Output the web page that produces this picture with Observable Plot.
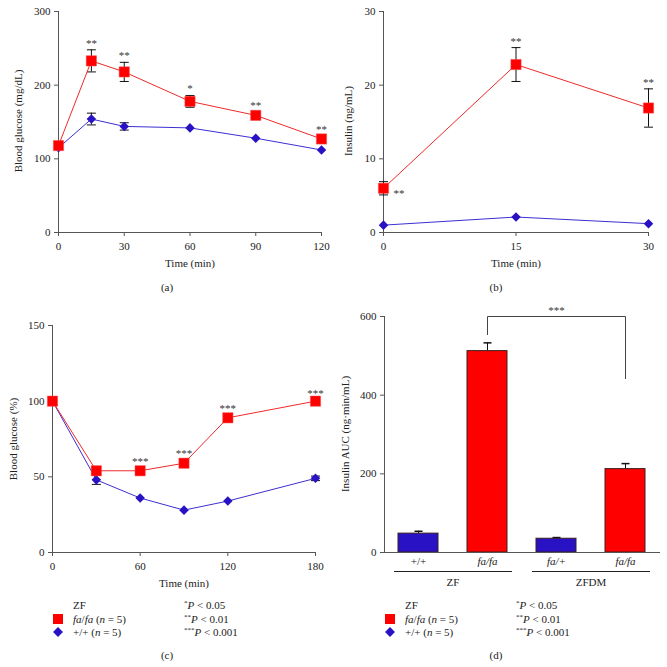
<!DOCTYPE html>
<html><head><meta charset="utf-8">
<script src="https://cdn.jsdelivr.net/npm/d3@7"></script>
<script src="https://cdn.jsdelivr.net/npm/@observablehq/plot@0.6"></script>
<style>
body{margin:0;background:#fff;}
#fig{position:relative;width:667px;height:667px;font-family:"Liberation Serif","Times New Roman",serif;color:#222;overflow:hidden;background:#fff;}
.panel{position:absolute;}
.panel svg{display:block;}
.cap{position:absolute;font-size:11px;transform:translate(-50%,-50%);white-space:nowrap;}
.ylab{position:absolute;font-size:11px;transform:translate(-50%,-50%) rotate(-90deg);white-space:nowrap;}
.leg{position:absolute;font-size:11px;white-space:nowrap;transform:translateY(-50%);}
.sq{position:absolute;width:10px;height:10px;background:#ff0000;transform:translate(-50%,-50%);}
.dm{position:absolute;width:7px;height:7px;background:#2912c4;transform:translate(-50%,-50%) rotate(45deg);}
.leg sup{font-size:7px;vertical-align:4px;line-height:0;}
text.stars{letter-spacing:2px;}
</style></head><body><div id="fig"></div>
<script>
// ---------- data ----------
// (a) blood glucose (mg/dL)
const aTime = [0, 15, 30, 60, 90, 120];
const aFaFa = [118, 233, 218, 178, 159, 127];
const aFaFaErr = [4, 15, 13, 8, 4, 4];
const aWild = [115, 154, 144, 142, 128, 112];
const aWildErr = [0, 8, 5, 0, 0, 0];
const aStars = ["", "**", "**", "*", "**", "**"];
// (b) insulin (ng/mL)
const bTime = [0, 15, 30];
const bFaFa = [6.0, 22.8, 16.9];
const bFaFaErr = [0.9, 2.3, 2.6];
const bWild = [1.0, 2.1, 1.2];
const bWildErr = [0, 0, 0];
const bStars = ["", "**", "**"];
const bSideStars = ["**", "", ""];
// (c) blood glucose (%)
const cTime = [0, 30, 60, 90, 120, 180];
const cFaFa = [100, 54, 54, 59, 89, 100];
const cFaFaErr = [0, 2, 2, 2, 2, 1];
const cWild = [100, 48, 36, 28, 34, 49];
const cWildErr = [0, 3, 0, 0, 0, 1.5];
const cStars = ["", "", "***", "***", "***", "***"];
// (d) insulin AUC
const dKeys = ["ZF +/+", "ZF fa/fa", "ZFDM fa/+", "ZFDM fa/fa"];
const dLabels = ["+/+", "fa/fa", "fa/+", "fa/fa"];
const dGroups = ["ZF", "ZF", "ZFDM", "ZFDM"];
const dGeno = ["wild", "fa", "wild", "fa"];
const dValues = [48, 512, 35, 212];
const dErr = [6, 21, 3, 14];
const dBracketKeys = ["ZF fa/fa", "ZF fa/fa", "ZFDM fa/fa", "ZFDM fa/fa"];
const dBracketValues = [554, 600, 600, 442];
const dBracketStars = "***";
const groupNames = ["ZF", "ZFDM"];
// axis titles
const yTitles = ["Blood glucose (mg/dL)", "Insulin (ng/mL)", "Blood glucose (%)", "Insulin AUC (ng·min/mL)"];

// ---------- style ----------
const RED = "#ff0000", RED_LINE = "#ee2a2a";
const BLUE = "#2912c4", BLUE_LINE = "#3d2fd2";
const AX = "#555";
const FONT = "Liberation Serif";
const cap = {draw(ctx, size){ const r = Math.sqrt(size / Math.PI); ctx.moveTo(-r, 0); ctx.lineTo(r, 0); }};

const fig = document.getElementById("fig");
function place(node, left, top, width){
  const d = document.createElement("div");
  d.className = "panel";
  d.style.left = left + "px"; d.style.top = top + "px"; d.style.width = width + "px";
  d.appendChild(node); fig.appendChild(d);
}
function svgStyle(){ return {fontFamily: FONT, fontSize: "11px", color: "#222", background: "transparent", overflow: "visible"}; }

function series(t, v, e, s){ return t.map((x, i) => ({t: x, v: v[i], e: e[i], s: s ? s[i] : ""})); }

function errMarks(data){
  const shown = data.filter(d => d.e > 0);
  return [
    Plot.ruleX(shown, {x: "t", y1: d => d.v - d.e, y2: d => d.v + d.e, stroke: "#111", strokeWidth: 1}),
    Plot.dot(shown, {x: "t", y: d => d.v + d.e, symbol: cap, r: 4.5, stroke: "#111", fill: "none", strokeWidth: 1}),
    Plot.dot(shown, {x: "t", y: d => d.v - d.e, symbol: cap, r: 4.5, stroke: "#111", fill: "none", strokeWidth: 1})
  ];
}

function linePanel(o){
  const fa = series(o.t, o.fa, o.faErr, o.stars);
  const wt = series(o.t, o.wt, o.wtErr);
  const marks = [
    Plot.frame({anchor: "left", stroke: AX}),
    Plot.frame({anchor: "bottom", stroke: AX}),
    Plot.axisY({ticks: o.yTicks, tickSize: 4, tickPadding: 4, label: null, stroke: AX}),
    Plot.axisX({ticks: o.xTicks, tickSize: 4, tickPadding: 6, label: "Time (min)", labelAnchor: "center", labelOffset: 34, labelArrow: "none", stroke: AX}),
    ...errMarks(wt),
    Plot.line(wt, {x: "t", y: "v", stroke: BLUE_LINE, strokeWidth: 1}),
    Plot.dot(wt, {x: "t", y: "v", symbol: "diamond2", r: 4.3, fill: BLUE, stroke: "none"}),
    ...errMarks(fa),
    Plot.line(fa, {x: "t", y: "v", stroke: RED_LINE, strokeWidth: 1}),
    Plot.dot(fa, {x: "t", y: "v", symbol: "square", r: 5.8, fill: RED, stroke: "#f45050", strokeWidth: 0.5}),
    Plot.text(fa.filter(d => d.s), {x: "t", y: d => d.v + d.e, text: "s", dy: -3, lineAnchor: "bottom", fill: "#333", className: "stars"})
  ];
  if (o.side) {
    const side = series(o.t, o.fa, o.faErr, o.side).filter(d => d.s);
    marks.push(Plot.text(side, {x: "t", y: "v", text: "s", dx: 10, dy: 5, textAnchor: "start", fill: "#333", className: "stars"}));
  }
  return Plot.plot({
    width: o.width, height: o.height,
    marginLeft: o.ml, marginRight: o.mr, marginTop: o.mt, marginBottom: o.mb,
    style: svgStyle(),
    x: {domain: o.xDomain, axis: null},
    y: {domain: o.yDomain, axis: null},
    marks
  });
}

place(linePanel({t: aTime, fa: aFaFa, faErr: aFaFaErr, wt: aWild, wtErr: aWildErr, stars: aStars,
  xDomain: [0, 120], yDomain: [0, 300], xTicks: aTime.filter(t => t % 30 === 0), yTicks: [0, 100, 200, 300],
  width: 333, height: 275, ml: 58, mr: 12, mt: 11, mb: 43}), 0, 0, 333);

place(linePanel({t: bTime, fa: bFaFa, faErr: bFaFaErr, wt: bWild, wtErr: bWildErr, stars: bStars, side: bSideStars,
  xDomain: [0, 30], yDomain: [0, 30], xTicks: bTime, yTicks: [0, 10, 20, 30],
  width: 334, height: 275, ml: 50, mr: 19, mt: 11, mb: 43}), 333, 0, 334);

place(linePanel({t: cTime, fa: cFaFa, faErr: cFaFaErr, wt: cWild, wtErr: cWildErr, stars: cStars,
  xDomain: [0, 180], yDomain: [0, 150], xTicks: [0, 60, 120, 180], yTicks: [0, 50, 100, 150],
  width: 333, height: 302, ml: 52, mr: 18, mt: 35, mb: 40}), 0, 290, 333);

// (d) bar chart
const dData = dKeys.map((k, i) => ({k, label: dLabels[i], g: dGroups[i], geno: dGeno[i], v: dValues[i], e: dErr[i]}));
const labelOf = Object.fromEntries(dData.map(d => [d.k, d.label]));
const groups = groupNames.map(g => {
  const ks = dData.filter(d => d.g === g).map(d => d.k);
  return {name: g, first: ks[0], last: ks[ks.length - 1]};
});
const bracket = dBracketKeys.map((k, i) => ({k, v: dBracketValues[i]}));
const midKey = dKeys[2];

function barPanel(step){
  return Plot.plot({
    width: 334, height: 302, marginLeft: 51, marginRight: 7, marginTop: 26, marginBottom: 40,
    style: svgStyle(),
    x: {type: "band", domain: dKeys, paddingInner: 0.42, paddingOuter: 0.21, axis: null},
    y: {domain: [0, 600], axis: null},
    marks: [
      Plot.ruleX(dData, {x: "k", y1: "v", y2: d => d.v + d.e, stroke: "#111"}),
      Plot.dot(dData, {x: "k", y: d => d.v + d.e, symbol: cap, r: 4, stroke: "#111", fill: "none"}),
      Plot.barY(dData, {x: "k", y: "v", fill: d => d.geno === "fa" ? RED : BLUE, stroke: "#3a2020", strokeWidth: 1}),
      Plot.frame({anchor: "left", stroke: AX}),
      Plot.ruleY([0], {stroke: AX}),
      Plot.axisY({ticks: [0, 200, 400, 600], tickSize: 4, tickPadding: 4, label: null, stroke: AX}),
      Plot.axisX({ticks: dKeys.filter(k => !labelOf[k].includes("fa")), tickFormat: k => labelOf[k], tickSize: 0, tickPadding: 5, label: null}),
      Plot.axisX({ticks: dKeys.filter(k => labelOf[k].includes("fa")), tickFormat: k => labelOf[k], tickSize: 0, tickPadding: 5, label: null, fontStyle: "italic"}),
      Plot.ruleY(groups, {x1: "first", x2: "last", y: () => 0, dy: 19, insetLeft: -4, insetRight: -5, stroke: "#222"}),
      Plot.text(groups, {x: "first", y: () => 0, text: "name", dx: step / 2, dy: 30, fill: "#222"}),
      Plot.line(bracket, {x: "k", y: "v", stroke: "#444", strokeWidth: 1}),
      Plot.text([dBracketStars], {x: () => midKey, y: () => d3.max(dBracketValues), text: d => d, dy: -3, lineAnchor: "bottom", fill: "#333", className: "stars"})
    ]
  });
}
const firstPass = barPanel(0);
const step = firstPass.scale("x").step;
place(barPanel(step), 333, 290, 334);

// y-axis titles
[[18, 121], [348, 121], [13, 439], [345, 434]].forEach(([x, y], i) => {
  const d = document.createElement("div"); d.className = "ylab"; d.textContent = yTitles[i];
  d.style.left = x + "px"; d.style.top = y + "px"; fig.appendChild(d);
});

// captions
[["(a)", 167, 287], ["(b)", 496, 287], ["(c)", 167, 655], ["(d)", 496, 655]].forEach(([t, x, y]) => {
  const d = document.createElement("div"); d.className = "cap"; d.textContent = t;
  d.style.left = x + "px"; d.style.top = y + "px"; fig.appendChild(d);
});

// legends
const legendRows = [
  {html: "ZF", marker: null},
  {html: "<i>fa</i>/<i>fa</i> (<i>n</i> = 5)", marker: "sq"},
  {html: "+/+ (<i>n</i> = 5)", marker: "dm"}
];
const pRows = ["<sup>*</sup><i>P</i> &lt; 0.05", "<sup>**</sup><i>P</i> &lt; 0.01", "<sup>***</sup><i>P</i> &lt; 0.001"];
[[58, 184], [390, 516]].forEach(([mx, px]) => {
  legendRows.forEach((r, i) => {
    const y = 605 + i * 13.5;
    const t = document.createElement("div"); t.className = "leg"; t.innerHTML = r.html;
    t.style.left = (mx + 15) + "px"; t.style.top = y + "px"; fig.appendChild(t);
    if (r.marker) {
      const m = document.createElement("div"); m.className = r.marker;
      m.style.left = mx + "px"; m.style.top = y + "px"; fig.appendChild(m);
    }
    const p = document.createElement("div"); p.className = "leg"; p.innerHTML = pRows[i];
    p.style.left = px + "px"; p.style.top = y + "px"; fig.appendChild(p);
  });
});
</script></body></html>
